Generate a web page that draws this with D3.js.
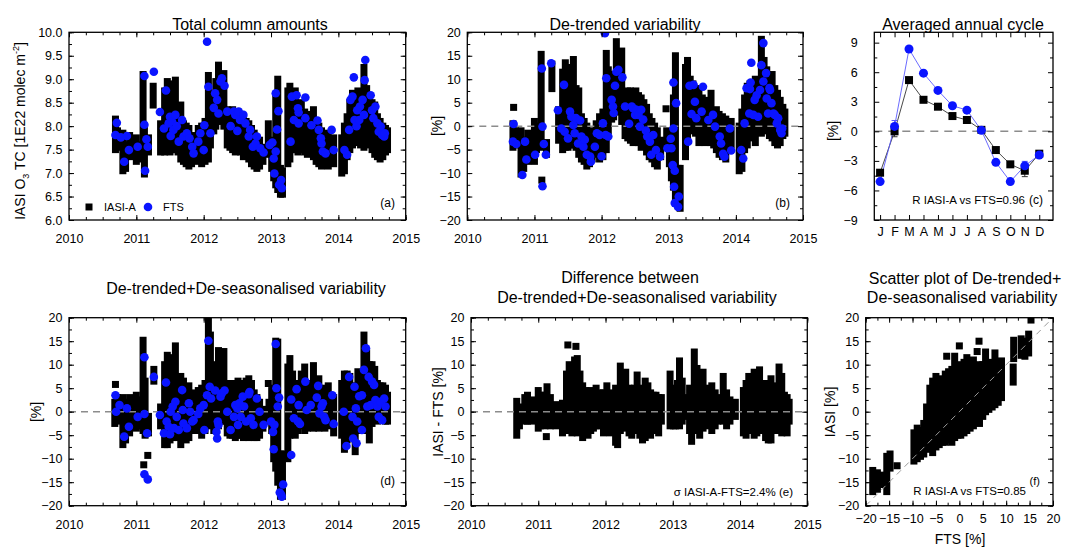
<!DOCTYPE html>
<html><head><meta charset="utf-8">
<script src="https://cdn.jsdelivr.net/npm/d3@7"></script>
<style>body{margin:0;background:#fff}svg text{font-family:"Liberation Sans",Arial,Helvetica,sans-serif}</style>
</head><body>
<svg id="chart" width="1065" height="547"></svg>
<script>
// ---------- data ----------
// IASI-A columns per FTS day: [decimal year, min, max]
const iasiTC = [[2010.69,7.5,8.15],[2010.72,7.55,7.9],[2010.80,7.05,7.85],[2010.84,7.1,7.6],[2010.90,7.35,7.8],[2011.00,7.25,7.75],[2011.03,7.3,7.6],[2011.10,7.35,9.1],[2011.12,6.98,8.0],[2011.18,7.45,7.75],[2011.25,8.45,8.85],[2011.36,7.45,8.05],[2011.42,7.45,8.75],[2011.46,7.5,8.95],[2011.50,7.45,8.8],[2011.54,7.5,8.9],[2011.58,7.5,8.98],[2011.62,7.45,8.4],[2011.66,7.3,8.45],[2011.70,7.25,8.05],[2011.74,7.2,8.0],[2011.78,7.15,7.95],[2011.82,7.2,7.8],[2011.86,7.3,7.75],[2011.92,7.25,7.95],[2011.97,7.2,8.0],[2012.02,7.25,8.1],[2012.07,7.3,9.08],[2012.10,7.6,8.7],[2012.15,7.9,8.6],[2012.18,8.0,8.95],[2012.22,8.1,9.3],[2012.26,8.2,9.1],[2012.30,8.0,9.12],[2012.35,7.6,8.35],[2012.39,7.55,8.3],[2012.43,7.5,8.35],[2012.47,7.45,8.3],[2012.51,7.5,8.3],[2012.55,7.45,8.25],[2012.59,7.35,8.2],[2012.63,7.4,8.1],[2012.67,7.3,8.05],[2012.71,7.2,7.95],[2012.75,7.15,7.85],[2012.79,7.1,7.75],[2012.83,7.15,7.7],[2012.88,7.25,7.55],[2012.96,7.4,8.05],[2013.01,7.1,7.7],[2013.04,6.9,7.6],[2013.07,6.75,8.6],[2013.10,6.65,9.0],[2013.14,6.55,7.1],[2013.17,6.55,7.05],[2013.25,7.2,8.75],[2013.28,7.3,8.85],[2013.32,7.5,8.6],[2013.36,7.5,8.75],[2013.40,7.45,8.4],[2013.45,7.5,8.5],[2013.50,7.45,8.3],[2013.54,7.4,8.25],[2013.58,7.45,8.2],[2013.63,7.35,8.35],[2013.67,7.25,7.95],[2013.71,7.2,8.0],[2013.75,7.15,7.9],[2013.80,7.2,7.75],[2013.85,7.15,7.85],[2013.93,7.2,7.75],[2014.05,7.0,7.75],[2014.09,7.05,8.0],[2014.13,7.35,8.2],[2014.17,7.5,8.5],[2014.21,7.6,8.7],[2014.25,7.8,8.4],[2014.29,7.65,8.75],[2014.33,7.6,8.45],[2014.38,7.55,9.25],[2014.42,7.7,8.8],[2014.46,7.6,8.6],[2014.50,7.5,8.5],[2014.54,7.4,8.45],[2014.58,7.35,8.2],[2014.62,7.3,8.1],[2014.66,7.35,8.0],[2014.70,7.45,7.95],[2014.73,7.5,7.9]];
// FTS total columns: [decimal year, value]
const ftsTC = [[2010.69,7.81],[2010.71,8.07],[2010.77,7.76],[2010.82,7.24],[2010.86,7.79],[2010.89,7.49],[2011.02,7.56],[2011.12,9.07],[2011.12,8.03],[2011.13,7.05],[2011.15,7.72],[2011.17,7.56],[2011.26,9.16],[2011.35,8.3],[2011.44,8.76],[2011.41,7.95],[2011.48,8.06],[2011.5,8.2],[2011.53,8.1],[2011.55,7.92],[2011.51,7.79],[2011.58,8.24],[2011.6,8.0],[2011.63,7.67],[2011.68,8.13],[2011.7,7.78],[2011.75,7.85],[2011.79,7.74],[2011.83,7.56],[2011.85,7.42],[2011.92,7.67],[2011.95,7.85],[2012.0,7.49],[2012.01,8.02],[2012.05,9.8],[2012.07,8.84],[2012.1,7.85],[2012.15,8.39],[2012.17,8.7],[2012.2,8.56],[2012.22,8.27],[2012.25,8.95],[2012.27,9.02],[2012.31,8.86],[2012.35,8.31],[2012.4,8.0],[2012.45,8.31],[2012.47,8.24],[2012.5,7.9],[2012.52,8.31],[2012.54,8.13],[2012.59,8.24],[2012.62,8.06],[2012.67,7.78],[2012.69,7.92],[2012.73,7.56],[2012.77,7.63],[2012.79,7.78],[2012.84,7.53],[2012.89,7.44],[2012.98,7.6],[2013.02,7.65],[2013.04,7.31],[2013.05,6.99],[2013.07,7.46],[2013.07,8.7],[2013.09,7.93],[2013.11,8.32],[2013.12,6.75],[2013.15,6.85],[2013.16,6.68],[2013.29,7.67],[2013.31,8.63],[2013.34,8.13],[2013.38,8.66],[2013.4,8.38],[2013.41,8.29],[2013.41,8.06],[2013.51,8.61],[2013.51,8.17],[2013.6,8.02],[2013.69,8.12],[2013.71,7.92],[2013.74,7.74],[2013.75,7.63],[2013.77,7.46],[2013.81,7.42],[2013.9,7.92],[2013.93,7.49],[2014.09,7.49],[2014.13,7.39],[2014.16,7.92],[2014.18,8.56],[2014.21,8.63],[2014.23,9.04],[2014.24,8.13],[2014.27,8.0],[2014.28,8.34],[2014.31,8.13],[2014.32,8.42],[2014.36,8.56],[2014.38,8.24],[2014.39,8.98],[2014.4,9.41],[2014.48,8.66],[2014.5,8.34],[2014.52,8.17],[2014.55,8.42],[2014.58,8.06],[2014.6,7.88],[2014.63,7.99],[2014.65,7.81],[2014.68,7.78],[2014.69,7.85]];

// De-trended variability [%]
const iasiDT = [[2010.68,-4.5,0.5],[2010.69,4,4],[2010.72,-4,-1],[2010.80,-10.2,-1],[2010.84,-9,-3],[2010.90,-7.5,-1.5],[2011.00,-7.5,1],[2011.03,-5,0],[2011.10,-4.5,15.3],[2011.11,-11.5,-11.5],[2011.18,-6,-3.5],[2011.26,8,13.2],[2011.36,-3,3.5],[2011.42,-5,11.5],[2011.46,-4.5,13.5],[2011.50,-4.5,12],[2011.54,-4,12.5],[2011.58,-4,14.2],[2011.62,-4.5,8],[2011.66,-6,7.5],[2011.70,-7,2],[2011.74,-7.5,1],[2011.78,-8.5,0],[2011.82,-8,-1],[2011.86,-7,-2],[2011.92,-6,0.5],[2011.97,-7,2],[2012.02,-6.5,3],[2012.07,-5,15.5],[2012.10,-1,12],[2012.15,1.5,10],[2012.18,2,11],[2012.22,3,18],[2012.26,4,15.5],[2012.30,1,16],[2012.35,-2,4.5],[2012.39,-2.5,7.5],[2012.43,-3,7.5],[2012.47,-3.5,7],[2012.51,-3,7.5],[2012.55,-3.5,6.5],[2012.59,-4.5,6],[2012.63,-4,5],[2012.67,-5.5,4],[2012.71,-6.5,2],[2012.75,-7,1],[2012.79,-8,0],[2012.83,-8.5,-1],[2012.88,-6.5,-3],[2012.96,3.7,3.7],[2012.97,-4,-1],[2013.01,-8,-2],[2013.04,-11,-4],[2013.07,-13,6],[2013.10,-15,15],[2013.14,-17,-9],[2013.17,-17.5,-9],[2013.25,-6.5,12.5],[2013.28,-3,14],[2013.32,0,10],[2013.36,-1,9],[2013.40,-1.5,7],[2013.45,-3.5,8],[2013.50,-3,6],[2013.54,-3.5,5.5],[2013.58,-3,5],[2013.63,-3.5,7],[2013.67,-4,3],[2013.71,-5,3.5],[2013.75,-6,2.5],[2013.80,-6.5,2],[2013.85,-7,1.5],[2013.93,-4,1],[2014.05,-9.5,0],[2014.09,-9,3],[2014.13,-5,6],[2014.17,-4,8.5],[2014.21,-2.5,9],[2014.25,-1,5],[2014.29,-3.5,10],[2014.33,-1,9],[2014.38,-1.5,18.5],[2014.42,0,14],[2014.46,-1,12],[2014.50,-2,10],[2014.54,-2.5,11],[2014.58,-3.5,8],[2014.62,-4,7],[2014.66,-3.5,5.5],[2014.70,-2,4],[2014.73,-1.5,3]];
const ftsDT = [[2010.69,0.46],[2010.68,-3.3],[2010.73,-3.8],[2010.86,-3.3],[2010.82,-10.4],[2010.88,-7.1],[2011.01,-6.1],[2011.11,12.3],[2011.12,-0.1],[2011.12,-12.8],[2011.14,-3.8],[2011.17,-6.1],[2011.25,13.4],[2011.35,3.4],[2011.44,8.8],[2011.4,-0.5],[2011.45,-1.2],[2011.5,-2.6],[2011.53,3.1],[2011.55,2.0],[2011.58,0.25],[2011.6,-1.5],[2011.62,1.7],[2011.65,-3.7],[2011.68,1.2],[2011.7,-2.2],[2011.73,-4.4],[2011.75,-2.9],[2011.78,-6.1],[2011.83,-6.5],[2011.84,-7.6],[2011.9,-4.4],[2011.93,-1.5],[2011.97,-1.9],[2012.0,-6.4],[2012.02,0.6],[2012.05,19.8],[2012.07,10.2],[2012.06,-1.9],[2012.1,-2.2],[2012.15,5.6],[2012.17,4.2],[2012.18,2.8],[2012.2,8.6],[2012.22,11.6],[2012.25,12.0],[2012.31,10.4],[2012.35,4.2],[2012.41,0.5],[2012.45,4.2],[2012.47,3.8],[2012.5,2.4],[2012.52,3.5],[2012.55,2.4],[2012.57,-0.1],[2012.59,3.5],[2012.62,1.4],[2012.66,-0.96],[2012.68,-2.2],[2012.72,-3.3],[2012.74,-6.1],[2012.77,-1.9],[2012.81,-5.1],[2012.87,-6.5],[2012.98,-4.7],[2013.03,-2.7],[2013.04,-4.7],[2013.06,-8.3],[2013.07,9.3],[2013.07,-0.5],[2013.09,-9.5],[2013.11,4.9],[2013.08,-12.9],[2013.09,-16.4],[2013.14,-17.2],[2013.15,-15.0],[2013.29,-3.3],[2013.31,8.6],[2013.34,2.6],[2013.37,8.8],[2013.39,5.2],[2013.41,1.7],[2013.51,8.4],[2013.49,3.1],[2013.59,1.3],[2013.66,2.4],[2013.69,-0.1],[2013.76,-2.2],[2013.78,-3.7],[2013.81,-5.9],[2013.83,-6.5],[2013.93,-5.2],[2013.91,-0.5],[2014.08,-5.1],[2014.11,-6.9],[2014.13,0.6],[2014.16,8.1],[2014.21,7.9],[2014.22,9.3],[2014.23,13.5],[2014.2,2.7],[2014.26,2.4],[2014.28,5.6],[2014.31,6.6],[2014.33,2.0],[2014.36,7.7],[2014.38,13.0],[2014.41,17.7],[2014.41,9.5],[2014.45,11.3],[2014.46,5.9],[2014.48,2.7],[2014.5,8.1],[2014.51,7.7],[2014.53,4.9],[2014.56,2.7],[2014.58,2.4],[2014.61,0.6],[2014.63,1.7],[2014.66,-0.8],[2014.68,-1.5],[2014.69,-0.5]];

// Averaged annual cycle [%]
const months = ["J","F","M","A","M","J","J","A","S","O","N","D"];
const iasiCycle = [-4.2,0.0,5.2,3.2,2.5,1.55,1.15,0.15,-1.9,-3.35,-4.0,-2.27];
const iasiCycleErr = [0.2,0.55,0.2,0.2,0.25,0.2,0.2,0.2,0.2,0.2,0.6,0.2];
const ftsCycle = [-5.1,0.5,8.35,5.9,4.15,2.6,2.15,0.1,-3.15,-5.1,-3.5,-2.4];
const ftsCycleErr = [0.2,0.6,0.2,0.2,0.2,0.2,0.2,0.2,0.2,0.2,0.45,0.2];

// De-trended + de-seasonalised variability [%]
const iasiDS = [[2010.68,-2.5,2],[2010.69,5.8,5.8],[2010.72,-2,3],[2010.80,-7,3],[2010.84,-6,2],[2010.90,-4.5,3],[2011.00,-3.5,3.5],[2011.03,-3,2.5],[2011.10,-4,15.2],[2011.11,-11.3,-11.3],[2011.13,-5,6.5],[2011.17,-9.3,-9.3],[2011.18,-4.5,-1],[2011.26,6.5,9],[2011.36,-3,1],[2011.42,-7,10],[2011.46,-7,12],[2011.50,-6,11.5],[2011.54,-5.5,9.5],[2011.58,-5,14],[2011.62,-5.5,7],[2011.66,-7,7.5],[2011.70,-5,6.5],[2011.74,-6,5],[2011.78,-5.5,5.5],[2011.82,-4,4],[2011.86,-4,3],[2011.92,-4,4.5],[2011.97,-5,5],[2012.02,-4,6],[2012.07,-3,19.5],[2012.10,-1,16.3],[2012.15,-4,9],[2012.18,-3.5,10],[2012.22,-3,13],[2012.26,-2,12.5],[2012.30,-2,12.8],[2012.35,-4.5,5],[2012.39,-5,6],[2012.43,-5,5.5],[2012.47,-5.5,6],[2012.51,-5,6.5],[2012.55,-5,5],[2012.59,-5.5,6],[2012.63,-5,6.5],[2012.67,-5.5,7],[2012.71,-4.5,6],[2012.75,-5.5,4],[2012.79,-5.5,3],[2012.83,-5,2],[2012.88,-3.5,0.5],[2012.96,6,6],[2012.97,-2,2],[2013.01,-4,4.5],[2013.04,-10,5],[2013.07,-12,15],[2013.10,-15,14.8],[2013.14,-18,-9],[2013.17,-18,-9],[2013.25,-10,9.5],[2013.28,-5,11.3],[2013.32,-4,8],[2013.36,-5,6],[2013.40,-4,5.5],[2013.45,-3,8],[2013.50,-4,9.5],[2013.54,-3.5,6],[2013.58,-3,5],[2013.63,-3.5,9.8],[2013.67,-3,6],[2013.71,-3.5,7],[2013.75,-3,5],[2013.80,-3.5,4],[2013.85,-3,5.5],[2013.93,-4.5,3],[2014.05,-5,6],[2014.09,-8,8],[2014.13,-6,8],[2014.17,-4,7.5],[2014.21,-5,5],[2014.25,-8.5,5.5],[2014.29,-4,8.5],[2014.33,-3,8],[2014.38,-2,16.3],[2014.42,-4,12.5],[2014.46,-6,10],[2014.50,-2.5,10],[2014.54,-1,9],[2014.58,-2,6],[2014.62,-1.5,5.5],[2014.66,-1,5.5],[2014.70,-2,5],[2014.73,-2,3.5]];
const ftsDS = [[2010.69,3.5],[2010.7,0],[2010.75,1.4],[2010.82,-5.3],[2010.86,0.7],[2010.89,-3.2],[2011.02,-1.1],[2011.12,11.6],[2011.12,-0.5],[2011.12,-13.3],[2011.16,-4.6],[2011.17,-14.4],[2011.26,7.4],[2011.35,-0.7],[2011.44,6.2],[2011.41,-4.6],[2011.45,-2.1],[2011.48,-3.2],[2011.5,-4.8],[2011.51,0],[2011.54,1.1],[2011.56,-3.5],[2011.58,2.1],[2011.6,-1.1],[2011.63,-3.9],[2011.68,4.6],[2011.69,0.35],[2011.7,-2.5],[2011.75,-3.5],[2011.78,1.8],[2011.8,0],[2011.83,-2.1],[2011.85,-1.8],[2011.92,-0.5],[2011.95,0.7],[2012.0,1.4],[2012.01,-3.9],[2012.05,3.5],[2012.07,15.1],[2012.09,5.3],[2012.11,2.8],[2012.17,4.5],[2012.19,-4.3],[2012.2,-5.7],[2012.21,-2.1],[2012.22,-2.8],[2012.25,3.2],[2012.27,3.9],[2012.31,4.5],[2012.35,0],[2012.4,-3.9],[2012.45,-1.1],[2012.47,1.4],[2012.5,0.7],[2012.51,-2.8],[2012.53,1.8],[2012.55,-1.1],[2012.58,3.2],[2012.6,1.1],[2012.63,-2.1],[2012.67,3.7],[2012.68,4.2],[2012.7,-1.4],[2012.74,-2.8],[2012.79,2.8],[2012.83,0],[2012.89,-2.8],[2013.0,-2.1],[2013.03,-4.3],[2013.04,-8.0],[2013.05,-2.8],[2013.07,14.4],[2013.08,5.0],[2013.1,1.1],[2013.12,3.0],[2013.13,-17.2],[2013.15,-17.6],[2013.16,-18.1],[2013.18,-15.5],[2013.3,-9.2],[2013.3,2.6],[2013.34,-1.4],[2013.38,4.8],[2013.4,-2.1],[2013.41,1.4],[2013.43,-2.6],[2013.51,6.4],[2013.53,0.35],[2013.59,1.4],[2013.68,3.0],[2013.7,5.5],[2013.72,-0.35],[2013.75,1.1],[2013.77,1.8],[2013.79,-1.1],[2013.81,-1.8],[2013.91,3.5],[2013.93,-2.6],[2014.08,0],[2014.12,-7.3],[2014.16,7.4],[2014.21,-1.1],[2014.22,-5.7],[2014.24,5.3],[2014.26,0.7],[2014.27,-6.7],[2014.28,-2.1],[2014.31,3.3],[2014.41,13.5],[2014.38,8.9],[2014.35,3.5],[2014.43,1.1],[2014.35,-3.9],[2014.45,7.4],[2014.5,6.4],[2014.53,5.7],[2014.48,1.4],[2014.55,2.5],[2014.58,1.1],[2014.6,-1.1],[2014.63,2.1],[2014.65,-1.8],[2014.68,2.8],[2014.7,1.1]];

// IASI - FTS difference [%]
const diffDS = [[2010.68,-5,2.2],[2010.72,-3,1],[2010.80,-2,3],[2010.84,-2,3.5],[2010.90,-2,2.5],[2011.00,-3.5,4.5],[2011.03,-3,3.5],[2011.10,-3,3.5],[2011.12,-5.3,-5.3],[2011.13,1.5,5.3],[2011.18,-3,3],[2011.26,-3,1.5],[2011.36,-4.5,1.8],[2011.42,-4,8],[2011.44,14.2,14.2],[2011.46,-3.5,10],[2011.50,-4.5,9],[2011.54,-3.5,11],[2011.56,13.9,13.9],[2011.58,-4.5,11.3],[2011.62,-4,8],[2011.66,-5.5,5.5],[2011.70,-4,4.5],[2011.74,-5,4],[2011.78,-4,4.5],[2011.82,-3.5,4],[2011.86,-3,5],[2011.92,-3,4],[2011.97,-4.5,4],[2012.02,-4,5.5],[2012.07,-4.5,4],[2012.10,-3.5,3.5],[2012.15,-6.5,5],[2012.18,-7,4],[2012.22,-4,9.7],[2012.26,-3.5,7.5],[2012.30,-3,8.4],[2012.35,-4.5,5],[2012.39,-5,4.5],[2012.43,-4,5],[2012.47,-4,7.8],[2012.51,-5,5],[2012.55,-6,4.5],[2012.59,-5.5,6.5],[2012.63,-4.5,5.5],[2012.67,-5,4],[2012.71,-4,3.5],[2012.75,-3,3.5],[2012.79,-4.5,3],[2012.83,-2,3],[2012.96,-3,8],[2013.01,-3,5],[2013.04,-3,4.5],[2013.07,-2.5,6],[2013.10,-3,10.8],[2013.14,-2,6.5],[2013.17,-1,3],[2013.25,-4,5],[2013.28,-6.3,4.5],[2013.32,-4,12.7],[2013.36,-3,9.2],[2013.40,-5,5],[2013.45,-3.5,8.4],[2013.50,-3,5],[2013.54,-2.5,4.5],[2013.58,-4,5.5],[2013.63,-3,4],[2013.67,-2,3],[2013.71,-1.5,2.5],[2013.75,-2,7.5],[2013.80,-3,4],[2013.85,-2,2.5],[2013.93,-1,2],[2014.05,-4.5,4.5],[2014.09,-5,6],[2014.13,-4,7.5],[2014.17,-3.5,6.5],[2014.21,-5,8.4],[2014.25,-4.5,6],[2014.29,-3,8.9],[2014.33,-4,4.5],[2014.38,-5.5,6],[2014.42,-6,6],[2014.46,-6,7],[2014.50,-4,5.5],[2014.54,-3,5],[2014.58,-4,9.5],[2014.62,-4.5,7.5],[2014.66,-3,3.5],[2014.70,-4.5,3],[2014.73,-2,2]];

// Scatter: IASI columns per FTS value [FTS %, IASI min, IASI max]
const scatterCols = [[-18.5,-17,-12.5],[-17.5,-16.5,-13],[-16.8,-15.5,-13.5],[-15.5,-17,-9.5],[-14.8,-12,-9],[-13.3,-11.5,-11.5],[-9.7,-10.5,-4.5],[-9.0,-10,-3.5],[-8.3,-9.5,-4],[-7.6,-9,-2.5],[-7.0,-8,1],[-6.3,-7.5,5],[-5.7,-8.7,6.5],[-5.0,-7.5,7.5],[-4.3,-7,6.5],[-3.6,-6.5,7],[-3.0,-6.5,8],[-2.3,-6,8.5],[-2.7,11.8,11.8],[-1.6,-6.5,9],[-1.0,-5.5,11.8],[-0.3,-5,8.5],[0.0,14,14],[0.3,-5,10],[1.0,-4.5,10.5],[1.6,-4,11.5],[2.3,-3.5,10.5],[3.0,-3,11],[3.6,-2,9.5],[3.8,12.8,12.8],[4.3,-2.5,10],[4.2,15,15],[5.0,-1,10],[5.6,0,12.7],[6.3,0.5,10.5],[7.0,1,10],[7.6,1.5,12.5],[8.3,2,9.5],[9.0,3,10.8],[11.5,6.3,9.5],[11.6,11.3,15.2],[13.2,12,15.5],[14.0,11.8,15],[14.8,12.5,16.5],[15.3,19.5,19.5]];

// axis ticks
const yearTicks = [2010,2011,2012,2013,2014,2015];
const quarterTicks = d3.range(2010,2015.01,0.25);
const tcTicks = [6.0,6.5,7.0,7.5,8.0,8.5,9.0,9.5,10.0];
const pctTicks = [-20,-15,-10,-5,0,5,10,15,20];
const cycleTicks = [-9,-6,-3,0,3,6,9];

// ---------- drawing ----------
const svg = d3.select("#chart");
const FONT = '"Liberation Sans", Arial, Helvetica, sans-serif';
const SQ = 7;
const BLUE = "#0a14ff";
let clipId = 0;

function drawFrame(g, x, y, cfg) {
  const [x0, x1] = x.range(), [yb, yt] = y.range();
  const mk = (axis, tr, vals, size, labels, fmt, pad) => {
    const a = axis.tickValues(vals).tickSize(-size).tickSizeOuter(0);
    if (labels) a.tickFormat(fmt).tickPadding(pad); else a.tickFormat("");
    const ag = g.append("g").attr("transform", tr).call(a);
    ag.select(".domain").remove();
    ag.selectAll("line").attr("stroke", "#000").attr("stroke-width", 1);
    ag.selectAll("text").attr("font-size", 12.5).attr("fill", "#000").attr("font-family", FONT);
  };
  const xs = d3.scaleLinear().domain(x.domain()).range(x.range());
  mk(d3.axisBottom(x), `translate(0,${yb})`, cfg.xMinor, 3, false);
  mk(d3.axisBottom(x), `translate(0,${yb})`, cfg.xMajor, 5, true, cfg.xFmt, cfg.xPad);
  mk(d3.axisTop(x), `translate(0,${yt})`, cfg.xMinor, 3, false);
  mk(d3.axisTop(x), `translate(0,${yt})`, cfg.xMajor, 5, false);
  mk(d3.axisLeft(y), `translate(${x0},0)`, cfg.yMinor, 3, false);
  mk(d3.axisLeft(y), `translate(${x0},0)`, cfg.yMajor, 5, true, cfg.yFmt, cfg.yPad);
  mk(d3.axisRight(y), `translate(${x1},0)`, cfg.yMinor, 3, false);
  mk(d3.axisRight(y), `translate(${x1},0)`, cfg.yMajor, 5, false);
  g.append("rect").attr("x", x0).attr("y", yt).attr("width", x1 - x0).attr("height", yb - yt)
    .attr("fill", "none").attr("stroke", "#000").attr("stroke-width", 1.3);
}

function plotLayer(g, x, y) {
  const id = "clip" + (clipId++);
  const [x0, x1] = x.range(), [yb, yt] = y.range();
  g.append("clipPath").attr("id", id).append("rect")
    .attr("x", x0).attr("y", yt).attr("width", x1 - x0).attr("height", yb - yt);
  return g.append("g").attr("clip-path", `url(#${id})`);
}

function columns(layer, x, y, data) {
  layer.selectAll(null).data(data).enter().append("rect")
    .attr("x", d => x(d[0]) - SQ / 2)
    .attr("y", d => y(d[2]) - SQ / 2)
    .attr("width", SQ)
    .attr("height", d => y(d[1]) - y(d[2]) + SQ)
    .attr("fill", "#000");
}
function dots(layer, x, y, data) {
  layer.selectAll(null).data(data).enter().append("circle")
    .attr("cx", d => x(d[0])).attr("cy", d => y(d[1])).attr("r", 4.3).attr("fill", BLUE);
}
function zeroLine(layer, x, y) {
  const [x0, x1] = x.range();
  layer.append("line").attr("x1", x0).attr("x2", x1).attr("y1", y(0)).attr("y2", y(0))
    .attr("stroke", "#8c8c8c").attr("stroke-width", 1.5).attr("stroke-dasharray", "7,5");
}
function text(str, px, py, size, anchor, rot) {
  const t = svg.append("text").attr("font-size", size).attr("text-anchor", anchor || "middle")
    .attr("fill", "#000").attr("font-family", FONT).text(str);
  if (rot) t.attr("transform", `translate(${px},${py}) rotate(-90)`);
  else t.attr("x", px).attr("y", py);
  return t;
}

const yearFmt = d3.format("d");
const timeCfg = (yMajor, yMinor, yFmt) => ({
  xMajor: yearTicks, xMinor: quarterTicks, xFmt: yearFmt, xPad: 14.5,
  yMajor, yMinor, yFmt, yPad: 6.5
});
const pctMinor = d3.range(-20, 20.01, 2.5);

// (a) total column amounts
{
  const g = svg.append("g");
  const x = d3.scaleLinear().domain([2010, 2015]).range([69, 405.7]);
  const y = d3.scaleLinear().domain([6, 10]).range([220, 32.3]);
  const L = plotLayer(g, x, y);
  columns(L, x, y, iasiTC);
  dots(L, x, y, ftsTC);
  drawFrame(g, x, y, timeCfg(tcTicks, d3.range(6, 10.01, 0.25), d3.format(".1f")));
  // legend
  g.append("rect").attr("x", 89 - SQ / 2).attr("y", 207 - SQ / 2).attr("width", SQ).attr("height", SQ).attr("fill", "#000");
  text("IASI-A", 104, 211, 11, "start");
  g.append("circle").attr("cx", 148).attr("cy", 207).attr("r", 4.3).attr("fill", BLUE);
  text("FTS", 163, 211, 11, "start");
  text("(a)", 395, 207, 12, "end");
  text("Total  column amounts", 250, 30, 16);
  const yl = text("", 25, 131, 14, "middle", true);
  yl.append("tspan").text("IASI O");
  yl.append("tspan").text("3").attr("font-size", 9).attr("dy", 4);
  yl.append("tspan").text(" TC [1E22 molec m").attr("dy", -4);
  yl.append("tspan").text("-2").attr("font-size", 9).attr("dy", -6);
  yl.append("tspan").text("]").attr("dy", 6);
}

// (b) de-trended variability
{
  const g = svg.append("g");
  const x = d3.scaleLinear().domain([2010, 2015]).range([467.3, 803]);
  const y = d3.scaleLinear().domain([-20, 20]).range([220, 32.3]);
  const L = plotLayer(g, x, y);
  columns(L, x, y, iasiDT);
  zeroLine(L, x, y);
  dots(L, x, y, ftsDT);
  drawFrame(g, x, y, timeCfg(pctTicks, pctMinor, d3.format("d")));
  text("(b)", 790, 207, 12, "end");
  text("De-trended variability", 625, 30, 16);
  text("[%]", 442, 126, 14, "middle", true);
}

// (c) averaged annual cycle
{
  const g = svg.append("g");
  const x = d3.scaleLinear().domain([0.6, 12.95]).range([874.3, 1053]);
  const y = d3.scaleLinear().domain([-9, 10.05]).range([220, 32.3]);
  const L = plotLayer(g, x, y);
  const mIdx = d3.range(1, 13);
  L.append("line").attr("x1", 874.3).attr("x2", 1053).attr("y1", y(0)).attr("y2", y(0))
    .attr("stroke", "#8c8c8c").attr("stroke-width", 1.5).attr("stroke-dasharray", "8,6");
  const line = d3.line().x((d, i) => x(i + 1)).y(d => y(d));
  L.append("path").attr("d", line(iasiCycle)).attr("fill", "none").attr("stroke", "#333").attr("stroke-width", 0.9);
  L.append("path").attr("d", line(ftsCycle)).attr("fill", "none").attr("stroke", "#5a5aff").attr("stroke-width", 0.9);
  const errs = (vals, errv, col) => {
    L.selectAll(null).data(mIdx).enter().append("path")
      .attr("d", m => {
        const xm = x(m), lo = y(vals[m - 1] - errv[m - 1]), hi = y(vals[m - 1] + errv[m - 1]);
        return `M${xm},${lo}V${hi}M${xm - 3},${lo}H${xm + 3}M${xm - 3},${hi}H${xm + 3}`;
      })
      .attr("stroke", col).attr("stroke-width", 1).attr("fill", "none");
  };
  errs(iasiCycle, iasiCycleErr, "#333");
  errs(ftsCycle, ftsCycleErr, "#5a5aff");
  L.selectAll(null).data(mIdx).enter().append("rect")
    .attr("x", m => x(m) - 4).attr("y", m => y(iasiCycle[m - 1]) - 4)
    .attr("width", 8).attr("height", 8).attr("fill", "#000");
  L.selectAll(null).data(mIdx).enter().append("circle")
    .attr("cx", m => x(m)).attr("cy", m => y(ftsCycle[m - 1])).attr("r", 4.5).attr("fill", BLUE);
  drawFrame(g, x, y, {
    xMajor: mIdx, xMinor: [], xFmt: (d, i) => months[i], xPad: 7,
    yMajor: cycleTicks, yMinor: d3.range(-7.5, 9.1, 3), yFmt: d3.format("d"), yPad: 16.5
  });
  text("R IASI-A vs FTS=0.96", 1025, 204, 11.5, "end");
  text("(c)", 1043, 204, 12, "end");
  text("Averaged annual cycle", 963, 30, 16);
  text("[%]", 838, 131, 14, "middle", true);
}

// (d) de-trended + de-seasonalised variability
{
  const g = svg.append("g");
  const x = d3.scaleLinear().domain([2010, 2015]).range([69, 405.7]);
  const y = d3.scaleLinear().domain([-20, 20]).range([505.7, 317.7]);
  const L = plotLayer(g, x, y);
  columns(L, x, y, iasiDS);
  zeroLine(L, x, y);
  dots(L, x, y, ftsDS);
  drawFrame(g, x, y, timeCfg(pctTicks, pctMinor, d3.format("d")));
  text("(d)", 395, 485, 12, "end");
  text("De-trended+De-seasonalised variability", 246, 294, 16);
  text("[%]", 41, 412, 14, "middle", true);
}

// (e) difference IASI - FTS
{
  const g = svg.append("g");
  const x = d3.scaleLinear().domain([2010, 2015]).range([471, 807.3]);
  const y = d3.scaleLinear().domain([-20, 20]).range([505.7, 317.7]);
  const L = plotLayer(g, x, y);
  columns(L, x, y, diffDS);
  zeroLine(L, x, y);
  drawFrame(g, x, y, timeCfg(pctTicks, pctMinor, d3.format("d")));
  text("\u03c3 IASI-A-FTS=2.4% (e)", 793, 496, 11.5, "end");
  text("Difference between", 630, 283, 16);
  text("De-trended+De-seasonalised variability", 637, 303, 16);
  text("IASI - FTS [%]", 443, 412, 14, "middle", true);
}

// (f) scatter plot
{
  const g = svg.append("g");
  const x = d3.scaleLinear().domain([-20, 20]).range([865.7, 1053]);
  const y = d3.scaleLinear().domain([-20, 20]).range([505.7, 317.7]);
  const L = plotLayer(g, x, y);
  columns(L, x, y, scatterCols);
  L.append("line").attr("x1", x(-20)).attr("y1", y(-20)).attr("x2", x(20)).attr("y2", y(20))
    .attr("stroke", "#9a9a9a").attr("stroke-width", 1).attr("stroke-dasharray", "6,5");
  drawFrame(g, x, y, {
    xMajor: pctTicks, xMinor: pctMinor, xFmt: d3.format("d"), xPad: 8,
    yMajor: pctTicks, yMinor: pctMinor, yFmt: d3.format("d"), yPad: 6.5
  });
  text("R IASI-A vs FTS=0.85", 1026, 495, 11.5, "end");
  text("(f)", 1040, 485, 11, "end");
  text("Scatter plot of De-trended+", 965, 284, 16);
  text("De-seasonalised variability", 962, 303, 16);
  text("IASI [%]", 835, 412, 14, "middle", true);
  text("FTS [%]", 960, 544, 14);
}
</script>
</body></html>
